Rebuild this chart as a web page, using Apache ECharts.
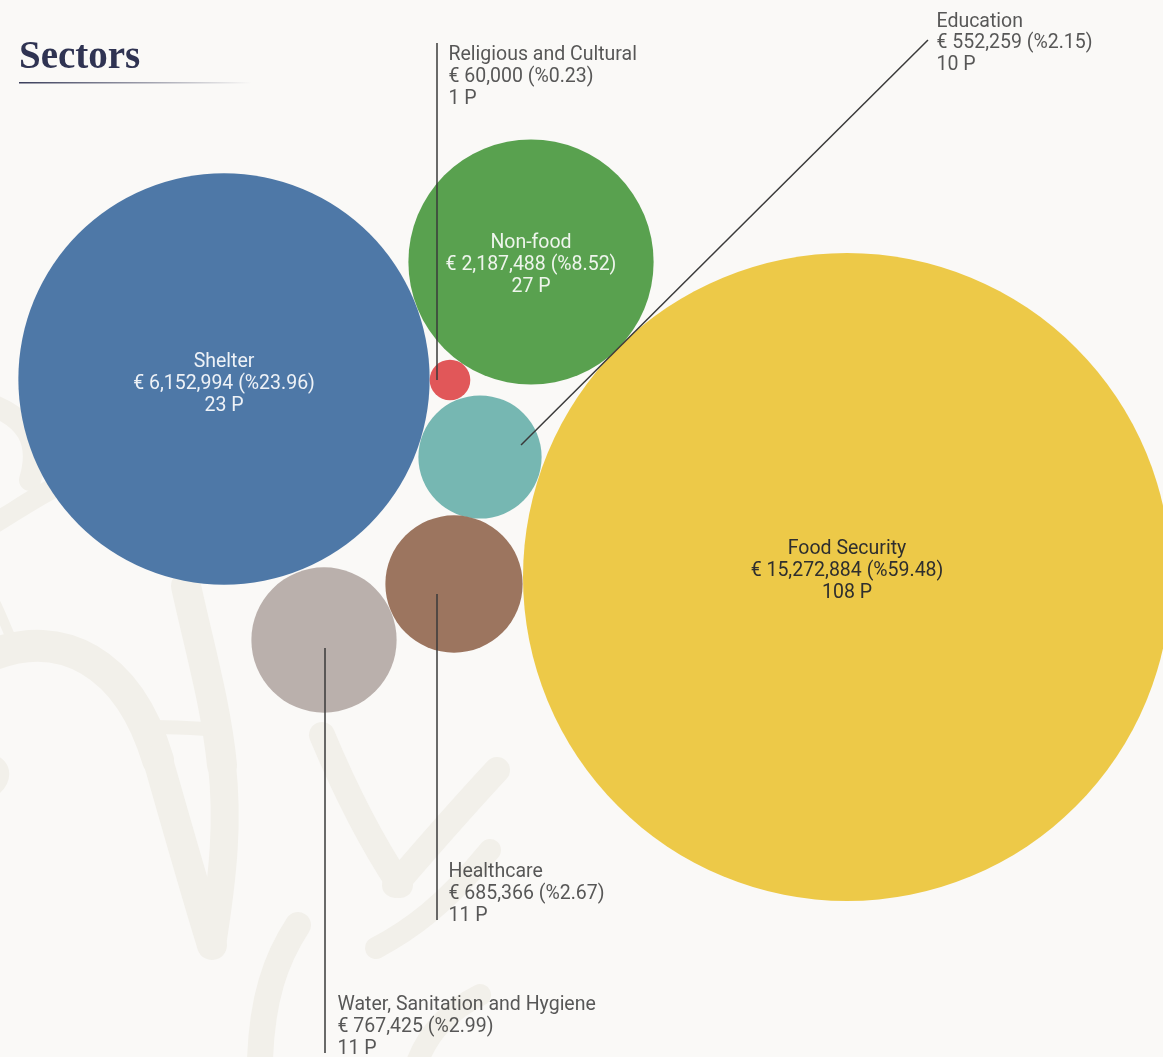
<!DOCTYPE html>
<html>
<head>
<meta charset="utf-8">
<title>Sectors</title>
<script src="https://cdn.jsdelivr.net/npm/echarts@6/dist/echarts.min.js"></script>
<style>
  html, body { margin: 0; padding: 0; background: #faf9f7; }
  #chart { width: 1163px; height: 1057px; }
</style>
</head>
<body>
<div id="chart"></div>
<script>
// Funding by sector: amount in EUR, share of the total (%), number of projects
const sectors  = ['Shelter', 'Non-food', 'Religious and Cultural', 'Education', 'Healthcare', 'Water, Sanitation and Hygiene', 'Food Security'];
const amounts  = [6152994, 2187488, 60000, 552259, 685366, 767425, 15272884];
const shares   = ['23.96', '8.52', '0.23', '2.15', '2.67', '2.99', '59.48'];
const projects = [23, 27, 1, 10, 11, 11, 108];

// Packed layout: bubble centres in page pixels
const centreX = [224, 531, 450, 480, 454, 324, 847];
const centreY = [379, 262, 380, 457, 584, 640, 577];

// Callouts for the small bubbles: leader from a point on the bubble to the text anchor
const callouts = [
  { idx: 2, from: [437, 380], to: [437, 43],   valign: 'top',    dx: 12, dy: 2 },
  { idx: 3, from: [521, 445], to: [928, 40],   valign: 'middle', dx: 9,  dy: 4 },
  { idx: 4, from: [437, 594], to: [437, 920],  valign: 'bottom', dx: 12, dy: 7 },
  { idx: 5, from: [325, 648], to: [325, 1053], valign: 'bottom', dx: 13, dy: 7 }
];

const palette = ['#4e78a7', '#59a14f', '#e15759', '#76b7b2', '#9c755f', '#bab0ac', '#edc948'];
const insideText = ['#eef2f7', '#eef5ec', '#fff', '#fff', '#fff', '#fff', '#2e2e2e'];
const insideShift = [5, 3, 0, 0, 0, 0, -6];
const FONT = 'Roboto, "Noto Sans", sans-serif';
const FONT_SIZE = 19.5;
const LINE_HEIGHT = 21.7;

// Bubble area is proportional to the amount; the largest bubble is 648px across
const maxAmount = Math.max.apply(null, amounts);
const MAX_DIAMETER = 648;
const diameterOf = v => MAX_DIAMETER * Math.sqrt(v / maxAmount);

const fmt = n => n.toLocaleString('en-US');
const labelText = i => sectors[i] + '\n€ ' + fmt(amounts[i]) + ' (%' + shares[i] + ')\n' + projects[i] + ' P';

const withCallout = callouts.map(c => c.idx);

const bubbleData = sectors.map((name, i) => ({
  name: name,
  value: [centreX[i], centreY[i], amounts[i]],
  itemStyle: { color: palette[i] },
  label: {
    show: withCallout.indexOf(i) < 0,
    color: insideText[i],
    offset: [0, insideShift[i]]
  }
}));

const leaderData = callouts.map(c => ({ coords: [c.from, c.to] }));

const calloutLabels = callouts.map(c => ({
  name: sectors[c.idx],
  value: [c.to[0], c.to[1]],
  label: {
    show: true,
    position: [c.dx, c.dy],
    align: 'left',
    verticalAlign: c.valign
  }
}));

// Faint decorative strokes in the background: [x1, y1, cp1x, cp1y, cp2x, cp2y, x2, y2, width]
const ornament = '#f2f0ea';
const ornamentCurves = [
  [-8, 655, 60, 628, 128, 660, 158, 760, 32],
  [158, 760, 178, 830, 195, 890, 212, 945, 30],
  [186, 586, 200, 650, 216, 705, 222, 765, 30],
  [222, 765, 228, 820, 224, 870, 212, 945, 28],
  [156, 727, 170, 727, 190, 728, 206, 729, 14],
  [-4, 604, 0, 612, 5, 624, 10, 636, 10],
  [-8, 405, 25, 418, 42, 440, 30, 480, 22],
  [-8, 525, 20, 508, 40, 494, 58, 486, 20],
  [322, 735, 345, 790, 370, 840, 400, 885, 26],
  [497, 770, 460, 810, 425, 850, 395, 885, 26],
  [376, 948, 410, 930, 445, 905, 490, 850, 22],
  [298, 925, 275, 960, 262, 1000, 260, 1060, 26],
  [418, 1060, 430, 1030, 450, 1010, 480, 995, 22],
  [-8, 760, 6, 765, 8, 780, -8, 792, 12]
];

const chart = echarts.init(document.getElementById('chart'), null, { renderer: 'canvas' });

chart.setOption({
  backgroundColor: '#faf9f7',
  animation: false,
  grid: { left: 0, right: 0, top: 0, bottom: 0 },
  xAxis: { type: 'value', min: 0, max: 1163, show: false },
  yAxis: { type: 'value', min: 0, max: 1057, inverse: true, show: false },
  graphic: [
    ...ornamentCurves.map(c => ({
      type: 'bezierCurve',
      z: -10,
      silent: true,
      shape: { x1: c[0], y1: c[1], cpx1: c[2], cpy1: c[3], cpx2: c[4], cpy2: c[5], x2: c[6], y2: c[7] },
      style: { fill: null, stroke: ornament, lineWidth: c[8], lineCap: 'round' }
    })),
    {
      type: 'text',
      left: 19,
      top: 38,
      style: {
        text: 'Sectors',
        fill: '#2f3352',
        font: 'bold 39px "Liberation Serif", "DejaVu Serif", serif'
      }
    },
    {
      type: 'rect',
      shape: { x: 19, y: 82, width: 232, height: 1.5 },
      style: {
        fill: {
          type: 'linear', x: 0, y: 0, x2: 1, y2: 0,
          colorStops: [
            { offset: 0, color: 'rgba(47,51,82,0.95)' },
            { offset: 0.55, color: 'rgba(47,51,82,0.45)' },
            { offset: 1, color: 'rgba(47,51,82,0)' }
          ]
        }
      }
    }
  ],
  series: [
    {
      type: 'scatter',
      name: 'Sectors',
      z: 2,
      data: bubbleData,
      symbol: 'circle',
      symbolSize: v => diameterOf(v[2]),
      itemStyle: { opacity: 1 },
      label: {
        position: 'inside',
        fontFamily: FONT,
        fontSize: FONT_SIZE,
        lineHeight: LINE_HEIGHT,
        align: 'center',
        formatter: p => labelText(p.dataIndex)
      },
      emphasis: { disabled: true }
    },
    {
      type: 'lines',
      coordinateSystem: 'cartesian2d',
      z: 3,
      silent: true,
      data: leaderData,
      lineStyle: { color: '#3a3a3a', width: 1.5, opacity: 1, curveness: 0 }
    },
    {
      type: 'scatter',
      z: 4,
      silent: true,
      data: calloutLabels,
      symbolSize: 1,
      itemStyle: { color: 'rgba(0,0,0,0)' },
      label: {
        fontFamily: FONT,
        fontSize: FONT_SIZE,
        lineHeight: LINE_HEIGHT,
        color: '#2e2e2e',
        formatter: p => labelText(callouts[p.dataIndex].idx)
      },
      emphasis: { disabled: true }
    }
  ]
});
</script>
</body>
</html>
